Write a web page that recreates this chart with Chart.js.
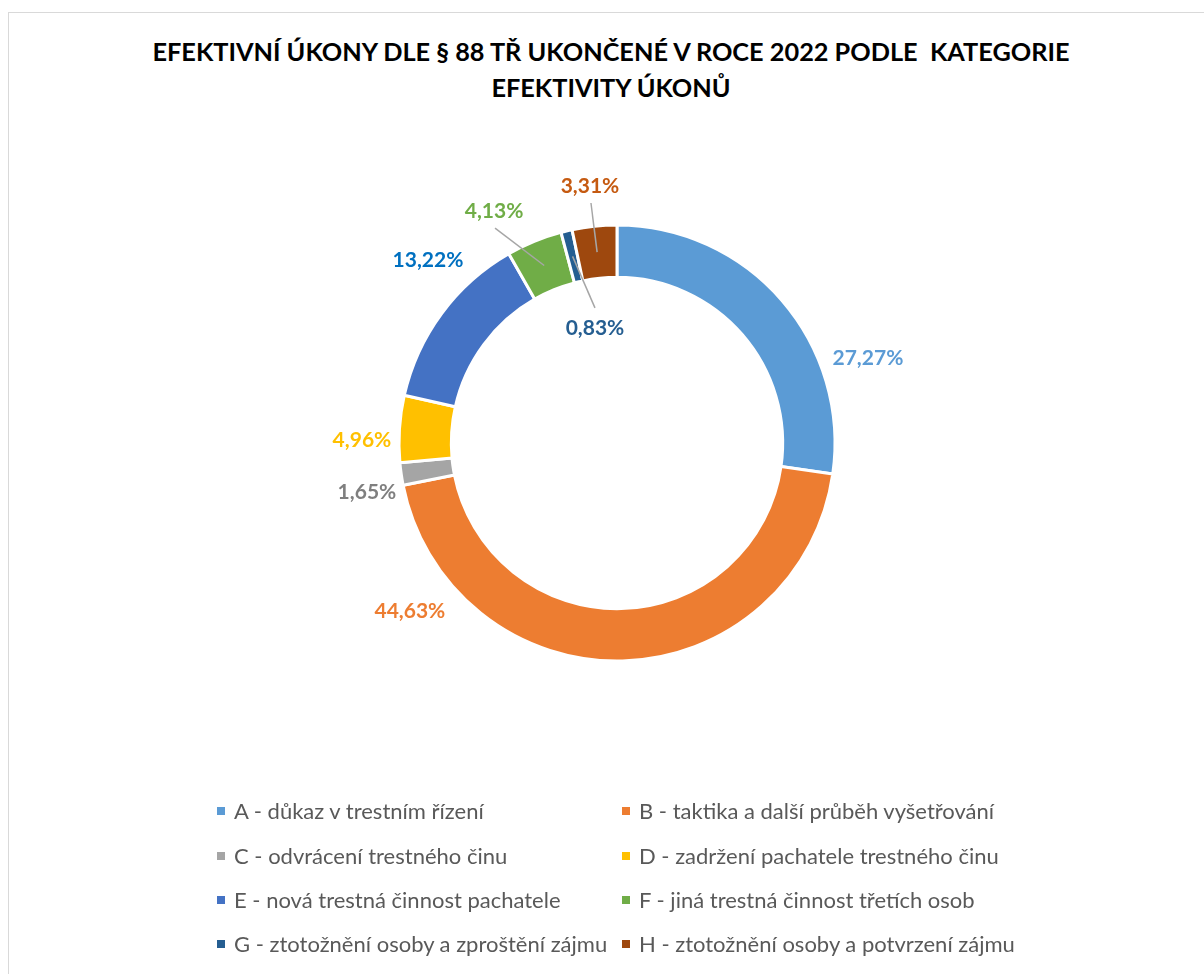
<!DOCTYPE html>
<html>
<head>
<meta charset="utf-8">
<script src="https://cdn.jsdelivr.net/npm/chart.js@4/dist/chart.umd.min.js"></script>
<style>
  html, body { margin: 0; padding: 0; background: #fff; overflow: hidden; }
  body { width: 1204px; height: 974px; position: relative; font-family: Lato, "Open Sans", sans-serif; }
  #frame { position: absolute; left: 8px; top: 12px; width: 1300px; height: 1100px; border: 1.5px solid #d9d9d9; }
  #title { position: absolute; left: 0; top: 33px; width: 1222px; text-align: center; font-weight: bold; font-size: 25.3px; line-height: 36px; color: #000; }
  #chart { position: absolute; left: 0; top: 0; }
  .item { position: absolute; font-size: 22px; color: #595959; white-space: nowrap; line-height: 24px; }
  .item i { position: absolute; left: 0; top: 8px; width: 8px; height: 8px; }
  .item span { position: absolute; left: 17px; top: 0; }
</style>
</head>
<body>
<div id="frame"></div>
<div id="title">EFEKTIVNÍ ÚKONY DLE § 88 TŘ UKONČENÉ V ROCE 2022 PODLE&nbsp; KATEGORIE<br>EFEKTIVITY ÚKONŮ</div>
<canvas id="chart" width="1204" height="974"></canvas>
<div id="legend"></div>
<script>
// categories and counts (121 úkonů celkem)
var categories = [
    'A - důkaz v trestním řízení',
    'B - taktika a další průběh vyšetřování',
    'C - odvrácení trestného činu',
    'D - zadržení pachatele trestného činu',
    'E - nová trestná činnost pachatele',
    'F - jiná trestná činnost třetích osob',
    'G - ztotožnění osoby a zproštění zájmu',
    'H - ztotožnění osoby a potvrzení zájmu'
];
var counts = [33, 54, 2, 6, 16, 5, 1, 4];
var percentLabels = ['27,27%', '44,63%', '1,65%', '4,96%', '13,22%', '4,13%', '0,83%', '3,31%'];

var colors = ['#5B9BD5', '#ED7D31', '#A5A5A5', '#FFC000', '#4472C4', '#70AD47', '#255E91', '#9E480E'];
var labelColors = ['#5B9BD5', '#ED7D31', '#7F7F7F', '#FFC000', '#0070C0', '#70AD47', '#255E91', '#C55A11'];
// label placement relative to the doughnut centre, in units of the outer radius
var labelOffsets = [[1.151, -0.39], [-0.95, 0.771], [-1.147, 0.225], [-1.17, -0.014], [-0.867, -0.839], [-0.564, -1.064], [-0.101, -0.528], [-0.124, -1.179]];
var leaderLines = [false, false, false, false, false, true, true, true];

var labelPlugin = {
    id: 'pctLabels',
    afterDatasetsDraw: function(chart) {
        var ctx = chart.ctx;
        var arcs = chart.getDatasetMeta(0).data;
        ctx.save();
        ctx.font = 'bold 21px Lato, "Open Sans", sans-serif';
        ctx.textAlign = 'center';
        ctx.textBaseline = 'middle';
        arcs.forEach(function(arc, i) {
            var p = arc.getProps(['x', 'y', 'startAngle', 'endAngle', 'innerRadius', 'outerRadius'], true);
            var R = p.outerRadius;
            var lx = p.x + labelOffsets[i][0] * R;
            var ly = p.y + labelOffsets[i][1] * R;
            if (leaderLines[i]) {
                var mid = (p.startAngle + p.endAngle) / 2;
                var mr = (p.innerRadius + p.outerRadius) / 2;
                var sx = p.x + Math.cos(mid) * mr;
                var sy = p.y + Math.sin(mid) * mr;
                var ey = ly + (sy > ly ? 17 : -20);
                ctx.strokeStyle = '#A6A6A6';
                ctx.lineWidth = 1.5;
                ctx.beginPath();
                ctx.moveTo(sx, sy);
                ctx.lineTo(lx + (sx > lx ? 1 : 0), ey);
                ctx.stroke();
            }
            ctx.fillStyle = labelColors[i];
            ctx.fillText(percentLabels[i], lx, ly);
        });
        ctx.restore();
    }
};

var ctx = document.getElementById('chart').getContext('2d');
var chart = new Chart(ctx, {
    type: 'doughnut',
    data: {
        labels: categories,
        datasets: [{
            data: counts,
            backgroundColor: colors,
            borderColor: '#ffffff',
            borderWidth: 3
        }]
    },
    options: {
        responsive: false,
        devicePixelRatio: 1,
        animation: false,
        events: [],
        cutout: '76%',
        layout: {
            padding: { left: 397.5, right: 367.5, top: 223.5, bottom: 311.5 }
        },
        plugins: {
            legend: { display: false },
            tooltip: { enabled: false },
            title: { display: false }
        }
    },
    plugins: [labelPlugin]
});

// legend, two columns
var legend = document.getElementById('legend');
var colX = [217, 622];
var rowY = [799, 844, 888, 932];
categories.forEach(function(name, i) {
    var d = document.createElement('div');
    d.className = 'item';
    d.style.left = colX[i % 2] + 'px';
    d.style.top = rowY[Math.floor(i / 2)] + 'px';
    d.innerHTML = '<i style="background:' + colors[i] + '"></i><span>' + name + '</span>';
    legend.appendChild(d);
});
</script>
</body>
</html>
